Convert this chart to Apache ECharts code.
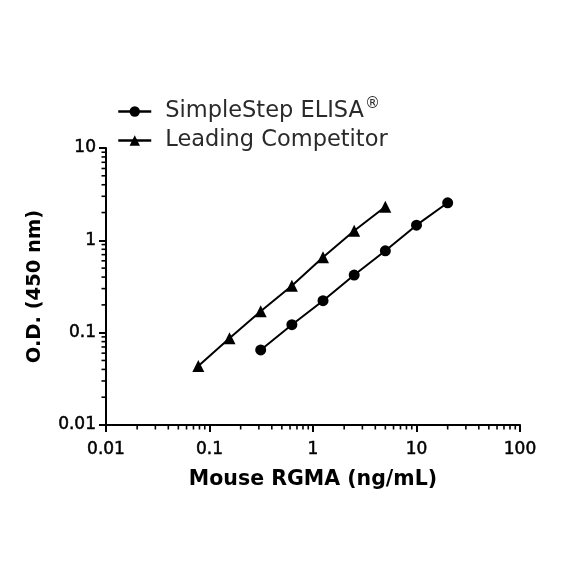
<!DOCTYPE html>
<html>
<head>
<meta charset="utf-8">
<script src="https://cdn.jsdelivr.net/npm/echarts@6/dist/echarts.min.js"></script>
<style>
html,body{margin:0;padding:0;background:#fff;}
#chart{width:584px;height:584px;}
</style>
</head>
<body>
<div id="chart"></div>
<script>
const simpleStepConc = [0.3125, 0.625, 1.25, 2.5, 5, 10, 20];
const simpleStepOD = [0.065, 0.122, 0.222, 0.421, 0.77, 1.46, 2.55];
const competitorConc = [0.078, 0.156, 0.3125, 0.625, 1.25, 2.5, 5];
const competitorOD = [0.0435, 0.087, 0.171, 0.322, 0.655, 1.27, 2.31];
const seriesNames = ['SimpleStep ELISA', 'Leading Competitor'];
const xAxisTitle = 'Mouse RGMA (ng/mL)';
const yAxisTitle = 'O.D. (450 nm)';
const xRange = [0.01, 100];
const yRange = [0.01, 10];

function minorTicks(range) {
  const out = [];
  for (let d = range[0]; d < range[1] * 0.999; d *= 10) {
    for (let k = 2; k <= 9; k++) out.push(+(d * k).toPrecision(6));
  }
  return out;
}
const xMinor = minorTicks(xRange);
const yMinor = minorTicks(yRange);

const chart = echarts.init(document.getElementById('chart'));
const font = 'DejaVu Sans';
const axisCommon = {
  type: 'log', logBase: 10,
  axisLine: {show: true, onZero: false, lineStyle: {color: '#000', width: 2}},
  axisTick: {show: true, inside: false, length: 7, lineStyle: {color: '#000', width: 2}},
  splitLine: {show: false},
  nameLocation: 'middle'
};
const tickLabelStyle = {fontFamily: font, fontSize: 17, color: '#000',
  textBorderColor: '#000', textBorderWidth: 0.5,
  formatter: function (v) { return String(+v.toPrecision(3)); }};
chart.setOption({
  animation: false,
  backgroundColor: '#fff',
  grid: {left: 106, right: 64, top: 148, bottom: 159},
  legend: {
    orient: 'vertical',
    left: 112,
    top: 92,
    itemWidth: 33,
    itemHeight: 13,
    itemGap: 6,
    itemStyle: {color: '#000'},
    lineStyle: {width: 2.5, color: '#000'},
    textStyle: {
      fontFamily: font, fontSize: 22.5, color: '#2a2a2a', padding: [0, 0, 0, 9],
      rich: {sup: {fontFamily: font, fontSize: 15, color: '#2a2a2a', verticalAlign: 'top', padding: [0,0,14,1]}}
    },
    formatter: function (n) { return n === seriesNames[0] ? n + '{sup|®}' : n; },
    data: seriesNames
  },
  xAxis: Object.assign({}, axisCommon, {
    min: xRange[0], max: xRange[1],
    axisLabel: Object.assign({margin: 16}, tickLabelStyle),
    name: xAxisTitle, nameGap: 44,
    nameTextStyle: {fontFamily: font, fontSize: 20.5, fontWeight: 'bold', color: '#000'}
  }),
  yAxis: Object.assign({}, axisCommon, {
    min: yRange[0], max: yRange[1],
    axisLabel: Object.assign({margin: 10}, tickLabelStyle),
    name: yAxisTitle, nameGap: 61,
    nameTextStyle: {fontFamily: font, fontSize: 19.5, fontWeight: 'bold', color: '#000'}
  }),
  series: [
    {
      name: seriesNames[0], type: 'line', symbol: 'circle', symbolSize: 11,
      lineStyle: {color: '#000', width: 2}, itemStyle: {color: '#000'},
      data: simpleStepConc.map((c, i) => [c, simpleStepOD[i]])
    },
    {
      name: seriesNames[1], type: 'line', symbol: 'triangle', symbolSize: 12,
      lineStyle: {color: '#000', width: 2}, itemStyle: {color: '#000'},
      data: competitorConc.map((c, i) => [c, competitorOD[i]])
    },
    {
      name: 'xMinorTicks', type: 'custom', silent: true, clip: false,
      data: xMinor.map(v => [v, yRange[0]]),
      renderItem: function (params, api) {
        const p = api.coord([api.value(0), api.value(1)]);
        return {type: 'line', shape: {x1: p[0], y1: p[1], x2: p[0], y2: p[1] + 4.5},
          style: {stroke: '#000', lineWidth: 1.6}};
      }
    },
    {
      name: 'yMinorTicks', type: 'custom', silent: true, clip: false,
      data: yMinor.map(v => [xRange[0], v]),
      renderItem: function (params, api) {
        const p = api.coord([api.value(0), api.value(1)]);
        return {type: 'line', shape: {x1: p[0], y1: p[1], x2: p[0] - 4.5, y2: p[1]},
          style: {stroke: '#000', lineWidth: 1.6}};
      }
    }
  ]
});
</script>
</body>
</html>
